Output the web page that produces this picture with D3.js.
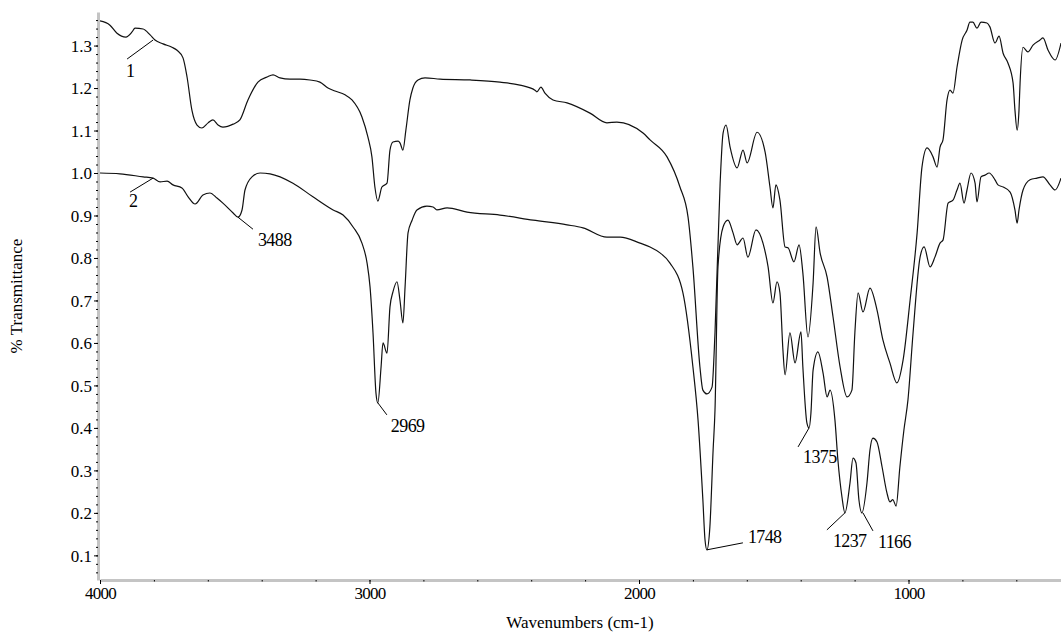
<!DOCTYPE html>
<html lang="en">
<head>
  <meta charset="UTF-8">
  <title>FTIR spectra</title>
  <script src="https://d3js.org/d3.v7.min.js"></script>
  <style>
    body { margin: 0; background: #fff; }
    svg { display: block; }
    svg text { font-family: "Liberation Serif", "Times New Roman", serif; }
  </style>
</head>
<body>
<svg></svg>
<script>
  // spectrum 1 (upper trace): [wavenumber, transmittance]
  const spectrum1 = [
    [4000,1.358],[3963,1.348],[3937,1.329],[3904,1.320],[3881,1.332],[3870,1.341],[3840,1.339],
    [3814,1.325],[3796,1.313],[3766,1.304],[3733,1.296],[3714,1.289],[3692,1.271],[3677,1.226],
    [3659,1.148],[3640,1.113],[3622,1.106],[3599,1.118],[3581,1.125],[3562,1.113],[3544,1.108],
    [3506,1.115],[3481,1.125],[3451,1.172],[3414,1.214],[3380,1.226],[3358,1.231],[3332,1.224],
    [3295,1.221],[3258,1.221],[3221,1.219],[3184,1.214],[3154,1.200],[3128,1.193],[3091,1.184],
    [3065,1.172],[3028,1.132],[3006,1.085],[2991,1.038],[2980,0.967],[2969,0.934],[2954,0.967],
    [2935,0.976],[2924,1.054],[2913,1.073],[2894,1.075],[2887,1.071],[2876,1.054],[2865,1.101],
    [2850,1.172],[2839,1.200],[2820,1.219],[2794,1.224],[2738,1.221],[2627,1.219],[2516,1.214],
    [2442,1.207],[2386,1.195],[2379,1.191],[2364,1.202],[2349,1.188],[2319,1.172],[2267,1.165],
    [2182,1.141],[2119,1.118],[2082,1.120],[1985,1.094],[1959,1.078],[1896,1.038],[1848,0.967],
    [1818,0.896],[1800,0.779],[1774,0.544],[1763,0.489],[1748,0.480],[1729,0.496],[1718,0.624],
    [1699,0.976],[1688,1.094],[1677,1.113],[1662,1.061],[1636,1.012],[1614,1.054],[1599,1.024],
    [1562,1.096],[1532,1.049],[1514,0.967],[1503,0.918],[1492,0.972],[1477,0.936],[1458,0.826],
    [1447,0.824],[1425,0.791],[1406,0.831],[1392,0.765],[1373,0.614],[1354,0.741],[1343,0.873],
    [1328,0.812],[1302,0.755],[1280,0.661],[1254,0.544],[1228,0.473],[1210,0.489],[1199,0.624],
    [1187,0.718],[1169,0.673],[1143,0.729],[1117,0.678],[1095,0.607],[1069,0.553],[1043,0.506],
    [1020,0.560],[994,0.701],[968,0.859],[950,1.014],[931,1.059],[909,1.038],[894,1.014],
    [883,1.061],[872,1.078],[857,1.172],[846,1.195],[835,1.188],[820,1.249],[801,1.313],
    [783,1.336],[772,1.355],[761,1.355],[746,1.341],[731,1.355],[709,1.353],[698,1.344],
    [679,1.306],[664,1.322],[649,1.282],[631,1.259],[612,1.212],[605,1.148],[597,1.101],
    [590,1.148],[586,1.212],[575,1.296],[557,1.285],[538,1.301],[512,1.313],[501,1.318],
    [482,1.289],[456,1.266],[434,1.306]
  ]

  // spectrum 2 (lower trace)
  const spectrum2 = [
    [4000,1.000],[3926,0.998],[3840,0.991],[3803,0.988],[3777,0.979],[3751,0.981],[3729,0.972],
    [3696,0.965],[3673,0.944],[3647,0.927],[3618,0.948],[3592,0.953],[3566,0.941],[3544,0.929],
    [3506,0.906],[3488,0.896],[3473,0.913],[3462,0.960],[3436,0.991],[3406,1.000],[3369,0.998],
    [3284,0.976],[3210,0.944],[3135,0.913],[3098,0.901],[3061,0.873],[3028,0.835],[3009,0.788],
    [2998,0.732],[2987,0.624],[2976,0.482],[2969,0.459],[2957,0.544],[2950,0.600],[2935,0.576],
    [2924,0.685],[2913,0.720],[2898,0.744],[2887,0.701],[2876,0.647],[2868,0.732],[2857,0.859],
    [2842,0.889],[2824,0.913],[2787,0.922],[2764,0.920],[2750,0.913],[2712,0.918],[2638,0.908],
    [2516,0.901],[2393,0.889],[2267,0.878],[2208,0.871],[2119,0.849],[2070,0.849],[1996,0.835],
    [1959,0.826],[1922,0.812],[1885,0.788],[1837,0.718],[1800,0.544],[1781,0.419],[1763,0.231],
    [1755,0.136],[1748,0.113],[1737,0.167],[1725,0.348],[1718,0.442],[1707,0.779],[1688,0.873],
    [1670,0.889],[1651,0.859],[1636,0.831],[1614,0.847],[1596,0.802],[1566,0.866],[1540,0.835],
    [1521,0.779],[1503,0.694],[1488,0.744],[1477,0.718],[1466,0.584],[1458,0.525],[1440,0.624],
    [1421,0.553],[1399,0.626],[1392,0.544],[1377,0.412],[1369,0.400],[1362,0.435],[1354,0.536],
    [1336,0.579],[1317,0.529],[1302,0.473],[1291,0.489],[1273,0.419],[1262,0.325],[1247,0.238],
    [1236,0.200],[1217,0.271],[1206,0.329],[1195,0.318],[1184,0.231],[1173,0.200],[1154,0.271],
    [1143,0.348],[1132,0.376],[1117,0.367],[1098,0.308],[1080,0.247],[1069,0.226],[1058,0.231],
    [1046,0.216],[1032,0.308],[1017,0.395],[1002,0.466],[983,0.624],[957,0.802],[942,0.826],
    [920,0.779],[902,0.802],[883,0.835],[872,0.842],[853,0.929],[835,0.936],[820,0.960],
    [809,0.976],[794,0.929],[783,0.960],[768,1.000],[753,0.976],[746,0.932],[731,0.991],
    [716,0.995],[701,1.000],[679,0.984],[668,0.972],[649,0.967],[623,0.955],[605,0.913],
    [597,0.882],[590,0.913],[575,0.960],[549,0.984],[523,0.988],[501,0.991],[475,0.972],
    [456,0.960],[434,0.988]
  ]

  // axis ticks
  const xTicks = [4000, 3000, 2000, 1000]
  const yTicks = [0.1, 0.2, 0.3, 0.4, 0.5, 0.6, 0.7, 0.8, 0.9, 1.0, 1.1, 1.2, 1.3]

  // peak labels
  const peakText = ['1', '2', '3488', '2969', '1748', '1375', '1237', '1166']
  const peakWn = [3803, 3803, 3488, 2969, 1748, 1369, 1236, 1169]
  const peakT = [1.313, 0.988, 0.896, 0.459, 0.113, 0.400, 0.200, 0.200]

  const width = 1061, height = 633
  const x = d3.scaleLinear().domain([4000, 400]).range([100, 1070.2])
  const y = d3.scaleLinear().domain([0.042, 1.379]).range([580, 12])

  const svg = d3.select('svg')
      .attr('width', width)
      .attr('height', height)

  // y axis: minor + major
  const yAxisG = svg.append('g').attr('transform', 'translate(98,0)')
  yAxisG.call(d3.axisLeft(y).tickValues(d3.range(0.06, 1.37, 0.02)).tickSize(2).tickSizeOuter(0).tickFormat(''))
  yAxisG.append('g').call(d3.axisLeft(y).tickValues(yTicks).tickSize(4).tickSizeOuter(0).tickPadding(2)
      .tickFormat(d3.format('.1f')))
      .call(g => g.select('.domain').remove())

  // x axis
  const xAxisG = svg.append('g').attr('transform', 'translate(0,580)')
  xAxisG.call(d3.axisBottom(x).tickValues(d3.range(4000, 399, -200)).tickSize(1.5).tickSizeOuter(0).tickFormat(''))
  xAxisG.append('g').call(d3.axisBottom(x).tickValues(xTicks).tickSize(4).tickSizeOuter(0).tickPadding(3)
      .tickFormat(d3.format('d')))
      .call(g => g.select('.domain').remove())

  svg.selectAll('.domain').attr('stroke', '#c4c4c4').attr('stroke-width', 3)
  svg.selectAll('.tick line').attr('stroke', '#000')
  svg.selectAll('.tick text').attr('font-size', 17).attr('fill', '#000')
  yAxisG.selectAll('.tick text').attr('dy', '0.34em')
  xAxisG.selectAll('.tick text').attr('letter-spacing', -0.8)

  // axis titles
  svg.append('text')
      .attr('transform', 'translate(22,296) rotate(-90)')
      .attr('text-anchor', 'middle')
      .attr('font-size', 17)
      .text('% Transmittance')
  svg.append('text')
      .attr('x', 580).attr('y', 628)
      .attr('text-anchor', 'middle')
      .attr('font-size', 17)
      .text('Wavenumbers (cm-1)')

  // spectra
  const line = d3.line()
      .x(d => x(d[0]))
      .y(d => y(d[1]))
      .curve(d3.curveMonotoneX)

  svg.append('defs').append('clipPath').attr('id', 'plot')
      .append('rect').attr('x', 100).attr('y', 0).attr('width', width - 100).attr('height', 580)

  const plot = svg.append('g').attr('clip-path', 'url(#plot)')
  ;[spectrum1, spectrum2].forEach(s => {
    plot.append('path')
        .datum(s)
        .attr('fill', 'none')
        .attr('stroke', '#111')
        .attr('stroke-width', 1.2)
        .attr('d', line)
  })

  // peak annotations: leader offsets (dx, dy) and text position relative to anchor
  const leader = [[-26, 19], [-23, 14], [15, 12], [9, 12], [36, -7], [-11, 19], [-18, 17], [10, 18]]
  const textPos = [[-23, 37, 'middle'], [-20, 29, 'middle'], [20, 29, 'start'], [13, 29, 'start'],
    [41, -7, 'start'], [-6, 35, 'start'], [-12, 34, 'start'], [15, 35, 'start']]

  const ann = svg.append('g').attr('font-size', 18)
  peakText.forEach((t, i) => {
    const px = x(peakWn[i]), py = y(peakT[i])
    ann.append('line')
        .attr('x1', px).attr('y1', py)
        .attr('x2', px + leader[i][0]).attr('y2', py + leader[i][1])
        .attr('stroke', '#000').attr('stroke-width', 1)
    ann.append('text')
        .attr('x', px + textPos[i][0]).attr('y', py + textPos[i][1])
        .attr('text-anchor', textPos[i][2])
        .attr('letter-spacing', -0.6)
        .text(t)
  })
</script>
</body>
</html>
